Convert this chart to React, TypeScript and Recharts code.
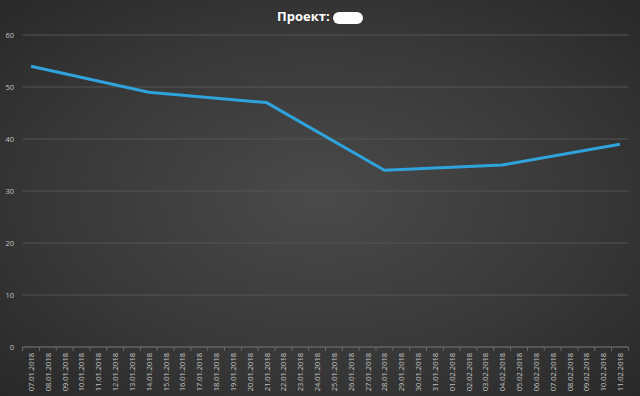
import { LineChart, Line, XAxis, YAxis, CartesianGrid } from 'recharts';

const dates = [
    '07.01.2018', '08.01.2018', '09.01.2018', '10.01.2018', '11.01.2018', '12.01.2018',
    '13.01.2018', '14.01.2018', '15.01.2018', '16.01.2018', '17.01.2018', '18.01.2018',
    '19.01.2018', '20.01.2018', '21.01.2018', '22.01.2018', '23.01.2018', '24.01.2018',
    '25.01.2018', '26.01.2018', '27.01.2018', '28.01.2018', '29.01.2018', '30.01.2018',
    '31.01.2018', '01.02.2018', '02.02.2018', '03.02.2018', '04.02.2018', '05.02.2018',
    '06.02.2018', '07.02.2018', '08.02.2018', '09.02.2018', '10.02.2018', '11.02.2018',
];

// weekly measurements, empty days are null
const values: (number | null)[] = [
    54, null, null, null, null, null, null,
    49, null, null, null, null, null, null,
    47, null, null, null, null, null, null,
    34, null, null, null, null, null, null,
    35, null, null, null, null, null, null,
    39,
];

const yTicks = [0, 10, 20, 30, 40, 50, 60];

const data = dates.map((date, i) => ({ date, value: values[i] }));

const STEP = 605.8 / dates.length;

const DateTick = ({ x, y, payload, index }: any) => {
    const axisY = y - 2;
    return (
        <g>
            <line x1={x - STEP / 2} y1={axisY} x2={x - STEP / 2} y2={axisY + 4} stroke="#6a6a6a" />
            {index === dates.length - 1 && (
                <line x1={x + STEP / 2} y1={axisY} x2={x + STEP / 2} y2={axisY + 4} stroke="#6a6a6a" />
            )}
            <text
                x={x}
                y={axisY + 6}
                transform={`rotate(-90, ${x}, ${axisY + 6})`}
                textAnchor="end"
                dominantBaseline="central"
                fill="#c4c4c4"
                fontSize={7.5}
                fontFamily="'Open Sans', sans-serif"
            >
                {payload.value}
            </text>
        </g>
    );
};

const ValueTick = ({ y, payload }: any) => (
    <text
        x={14}
        y={y}
        textAnchor="end"
        dominantBaseline="central"
        fill="#c4c4c4"
        fontSize={7.5}
        fontFamily="'Open Sans', sans-serif"
    >
        {payload.value}
    </text>
);

export default function App() {
    return (
        <div
            style={{
                position: 'absolute',
                left: 0,
                top: 0,
                width: 640,
                height: 396,
                background: 'radial-gradient(ellipse 75% 75% at 50% 50%, #4a4a4a 0%, #383838 55%, #262626 100%)',
                fontFamily: "'Open Sans', sans-serif",
            }}
        >
            <div
                style={{
                    position: 'absolute',
                    top: 7,
                    left: 0,
                    width: 640,
                    textAlign: 'center',
                    color: '#ffffff',
                    fontSize: 13,
                    fontWeight: 700,
                }}
            >
                Проект:{' '}
                <span
                    style={{
                        display: 'inline-block',
                        width: 30,
                        height: 12,
                        background: '#ffffff',
                        borderRadius: 6,
                        verticalAlign: 'middle',
                    }}
                />
            </div>
            <LineChart
                width={640}
                height={396}
                data={data}
                margin={{ top: 35, right: 11.6, bottom: 0, left: 0 }}
            >
                <CartesianGrid vertical={false} stroke="#555555" strokeWidth={1} />
                <XAxis
                    dataKey="date"
                    interval={0}
                    height={49}
                    padding={{ left: STEP / 2, right: STEP / 2 }}
                    stroke="#6a6a6a"
                    tickLine={false}
                    tickSize={0}
                    tick={<DateTick />}
                />
                <YAxis
                    domain={[0, 60]}
                    ticks={yTicks}
                    width={22.6}
                    axisLine={false}
                    tickLine={false}
                    tick={<ValueTick />}
                />
                <Line
                    type="linear"
                    dataKey="value"
                    stroke="#2fa3dc"
                    strokeWidth={3}
                    strokeLinejoin="round"
                    dot={false}
                    connectNulls
                    isAnimationActive={false}
                />
            </LineChart>
        </div>
    );
}
